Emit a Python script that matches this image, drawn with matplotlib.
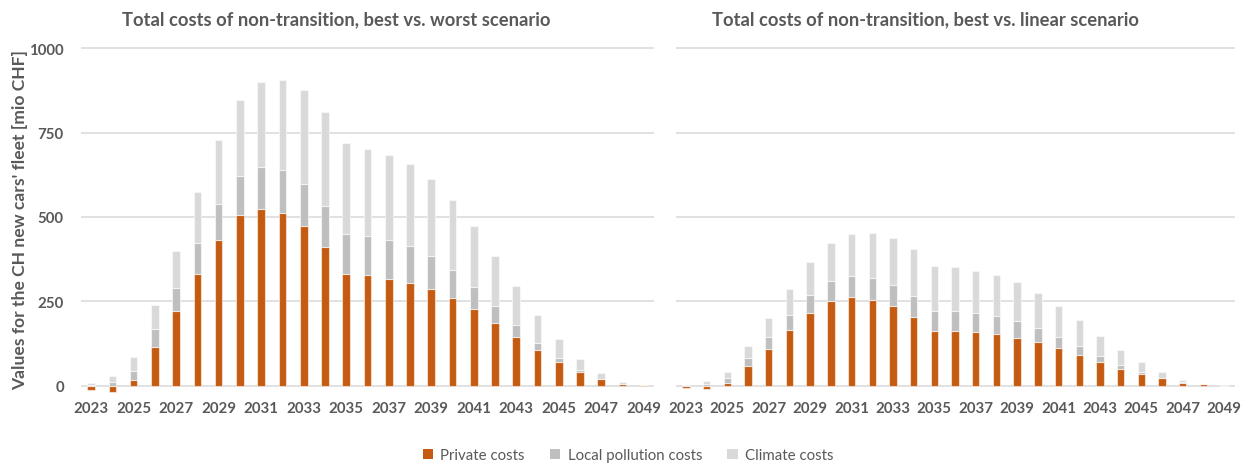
import matplotlib
matplotlib.use("Agg")
import matplotlib.pyplot as plt
import numpy as np
from matplotlib.patches import Patch

years = list(range(2023, 2050))

# Left: best vs. worst scenario
worst_private = [-14, -20, 17, 116, 221, 331, 433, 506, 524, 513, 473, 411, 331, 328, 317, 305, 288,
                 261, 227, 186, 144, 106, 69, 41, 19, 5, 1]
worst_local = [3, 12, 27, 51, 68, 92, 106, 116, 124, 126, 125, 122, 120, 116, 114, 108, 96,
               83, 65, 50, 36, 20, 13, 5, 2, 1, 0.3]
worst_climate = [5, 16, 41, 72, 110, 150, 190, 224, 251, 268, 278, 277, 267, 258, 252, 243, 230,
                 206, 181, 148, 115, 84, 56, 33, 17, 5, 1.5]

# Right: best vs. linear scenario
linear_private = [-7, -9, 9, 57, 110, 166, 216, 252, 262, 255, 237, 205, 162, 162, 158, 152, 141,
                  129, 112, 92, 71, 50, 36, 22, 9, 4, -1]
linear_local = [1, 6, 14, 25, 35, 44, 54, 59, 62, 65, 61, 62, 60, 60, 57, 55, 51,
                42, 32, 26, 17, 12, 5, 1, 1, 0.3, 0.3]
linear_climate = [2, 8, 18, 35, 55, 77, 96, 113, 125, 134, 140, 138, 133, 129, 126, 120, 114,
                  104, 92, 76, 59, 44, 29, 17, 7, 1, 0.7]

titles = ["Total costs of non-transition, best vs. worst scenario",
          "Total costs of non-transition, best vs. linear scenario"]
series_names = ["Private costs", "Local pollution costs", "Climate costs"]
yticks = [0, 250, 500, 750, 1000]
ylabel = "Values for the CH new cars' fleet [mio CHF]"

C_PRIV = "#C55A11"
C_LOC = "#BFBFBF"
C_CLIM = "#D9D9D9"
TXT = "#595959"
FONT = "Lato"

W, H = 1250, 464
fig = plt.figure(figsize=(W / 100, H / 100), dpi=100)

def px_axes(x0, x1, y_top, y_bot):
    return [x0 / W, 1 - y_bot / H, (x1 - x0) / W, (y_bot - y_top) / H]

ax1 = fig.add_axes(px_axes(80.5, 654.4, 47.6, 396.8))
ax2 = fig.add_axes(px_axes(675.6, 1234.5, 47.6, 396.8))

x = np.array(years)
for ax, priv, loc, clim, showy in [(ax1, worst_private, worst_local, worst_climate, True),
                                   (ax2, linear_private, linear_local, linear_climate, False)]:
    priv = np.array(priv, float)
    loc = np.array(loc, float)
    clim = np.array(clim, float)
    base = np.maximum(priv, 0)
    bw = 0.36
    ec = (1, 1, 1, 0.55)
    ax.bar(x, priv, width=bw, color=C_PRIV, edgecolor=ec, linewidth=0.8, zorder=3)
    ax.bar(x, loc, bottom=base, width=bw, color=C_LOC, edgecolor=ec, linewidth=0.8, zorder=3)
    ax.bar(x, clim, bottom=base + loc, width=bw, color=C_CLIM, edgecolor=ec, linewidth=0.8, zorder=3)
    ax.set_xlim(2022.5, 2049.5)
    ax.set_ylim(-30, 1005)
    ax.set_yticks(yticks)
    ax.yaxis.grid(True, color="#D9D9D9", linewidth=1.1, zorder=0)
    ax.set_axisbelow(True)
    for s in ax.spines.values():
        s.set_visible(False)
    ax.set_xticks(years[::2])
    ax.set_xticklabels([str(y) for y in years[::2]], fontsize=10.8, fontweight="bold",
                       color=TXT, family=FONT)
    ax.tick_params(axis="both", length=0)
    ax.tick_params(axis="x", pad=4)
    if showy:
        ax.set_yticklabels([str(v) for v in yticks], fontsize=10.8, fontweight="bold",
                           color=TXT, family=FONT)
        ax.tick_params(axis="y", pad=12)
    else:
        ax.set_yticklabels([])

fig.text(122 / W, 1 - 20 / H, titles[0], ha="left", va="center", fontsize=13.2,
         fontweight="bold", color=TXT, family=FONT)
fig.text(712 / W, 1 - 20 / H, titles[1], ha="left", va="center", fontsize=13.2,
         fontweight="bold", color=TXT, family=FONT)
fig.text(20 / W, 1 - 220 / H, ylabel, rotation=90, ha="center", va="center", fontsize=12.6,
         fontweight="bold", color=TXT, family=FONT)

handles = [Patch(facecolor=c) for c in (C_PRIV, C_LOC, C_CLIM)]
leg = fig.legend(handles, series_names, loc="center", bbox_to_anchor=(628 / W, 1 - 456 / H),
                 ncol=3, frameon=False, handlelength=0.7, handleheight=0.7, handletextpad=0.5,
                 columnspacing=1.65, prop={"family": FONT, "size": 10.8})
for t in leg.get_texts():
    t.set_color(TXT)

fig.savefig("out.png", dpi=100, facecolor="white")
